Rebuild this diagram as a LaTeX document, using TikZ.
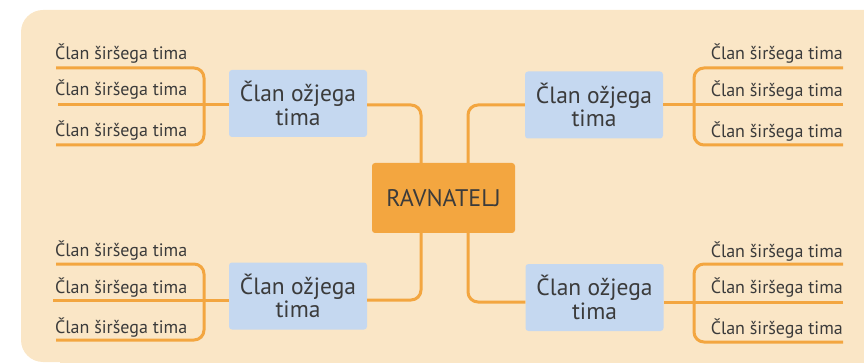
\documentclass[tikz,border=0pt]{standalone}
\usepackage{fontspec}
\setmainfont{PT Sans}
\definecolor{bgc}{HTML}{FAE6C6}
\definecolor{org}{HTML}{F3A640}
\definecolor{blu}{HTML}{C5D8F0}
\definecolor{txt}{HTML}{3B3B3B}
\begin{document}
\begin{tikzpicture}[x=1pt,y=-1pt,
  conn/.style={draw=org,line width=3pt,rounded corners=10pt},
  inner/.style={fill=blu,rounded corners=3pt,minimum width=138pt,minimum height=67pt,align=center,font=\fontsize{23.5}{23.5}\selectfont,text=txt,inner sep=0pt},
  boss/.style={fill=org,rounded corners=3pt,minimum width=143pt,minimum height=70pt,font=\fontsize{24}{24}\selectfont,text=txt,inner sep=0pt},
  wide/.style={font=\fontsize{18}{18}\selectfont,text=txt,inner sep=0pt}]
\useasboundingbox (0,0) rectangle (864,363);
\begin{scope}
\clip (0,0) rectangle (864,363);
\fill[bgc,rounded corners=22pt] (21,10) rectangle (900,362);
\fill[bgc] (800,10) rectangle (900,400);
\fill[bgc] (60,300) rectangle (900,400);
\end{scope}
% nodes
\node[boss] (c) at (443.5,198) {RAVNATELJ};
\node[inner] (tl) at (298,103.5) {Član ožjega\\tima};
\node[inner] (tr) at (594,105) {Član ožjega\\tima};
\node[inner] (bl) at (298,296) {Član ožjega\\tima};
\node[inner] (br) at (594.5,297.5) {Član ožjega\\tima};
% coordinates
\coordinate (cTL) at (421,163);
\coordinate (cTR) at (468,163);
\coordinate (cBL) at (421,233);
\coordinate (cBR) at (468,233);
% center connectors
\draw[conn] (cTL) |- (tl.east |- 0,105);
\draw[conn] (cTR) |- (tr.west |- 0,105);
\draw[conn] (cBL) |- (bl.east |- 0,300);
\draw[conn] (cBR) |- (br.west |- 0,302);
% brackets coordinates
\coordinate (lt1) at (56,68);  \coordinate (lt2) at (58,105); \coordinate (lt3) at (56,145);
\coordinate (lb1) at (56,264); \coordinate (lb2) at (53,300); \coordinate (lb3) at (56,340);
\coordinate (rt1) at (843,68); \coordinate (rt2) at (843,105); \coordinate (rt3) at (843,145);
\coordinate (rb1) at (843,264); \coordinate (rb2) at (843,302); \coordinate (rb3) at (843,342);
% left brackets
\draw[conn] (lt1) -- (204,68) -- (204,145) -- (lt3);
\draw[conn] (lt2) -- (tl.west |- 0,105);
\draw[conn] (lb1) -- (204,264) -- (204,340) -- (lb3);
\draw[conn] (lb2) -- (bl.west |- 0,300);
% right brackets
\draw[conn] (rt1) -- (694,68) -- (694,145) -- (rt3);
\draw[conn] (rt2) -- (tr.east |- 0,105);
\draw[conn] (rb1) -- (694,264) -- (694,342) -- (rb3);
\draw[conn] (rb2) -- (br.east |- 0,302);
% labels
\node[wide,anchor=west] (a1) at (55,54) {Član širšega tima};
\node[wide,anchor=west] (a2) at (55,90) {Član širšega tima};
\node[wide,anchor=west] (a3) at (55,131) {Član širšega tima};
\node[wide,anchor=west] (b1) at (55,251) {Član širšega tima};
\node[wide,anchor=west] (b2) at (55,288) {Član širšega tima};
\node[wide,anchor=west] (b3) at (55,328) {Član širšega tima};
\node[wide,anchor=east] (r1) at (843,54) {Član širšega tima};
\node[wide,anchor=east] (r2) at (843,91) {Član širšega tima};
\node[wide,anchor=east] (r3) at (843,132) {Član širšega tima};
\node[wide,anchor=east] (s1) at (843,252) {Član širšega tima};
\node[wide,anchor=east] (s2) at (843,288) {Član širšega tima};
\node[wide,anchor=east] (s3) at (843,329) {Član širšega tima};
\end{tikzpicture}
\end{document}
